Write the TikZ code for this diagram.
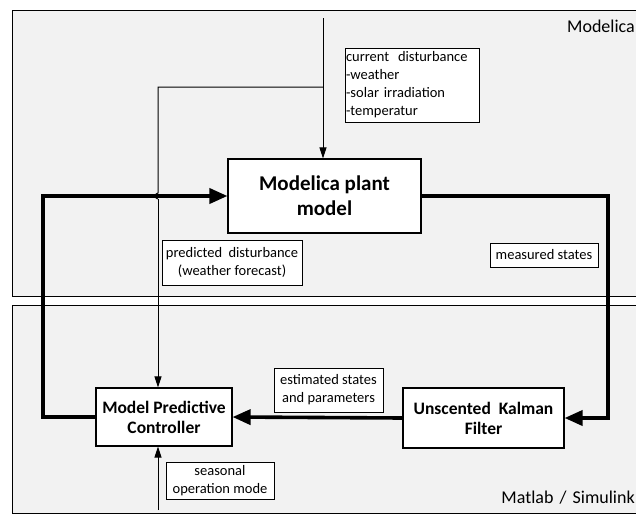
\documentclass[tikz,border=0pt]{standalone}
\usepackage{fontspec}
\setmainfont{Carlito}
\usetikzlibrary{arrows.meta}
\definecolor{panel}{HTML}{F2F2F2}
\tikzset{
  blk/.style={draw=black, line width=1.1pt, fill=white, align=center, font=\fontsize{17.5}{20}\selectfont\bfseries, inner sep=0pt},
  lbl/.style={draw=black, line width=0.8pt, fill=white, align=center, font=\fontsize{14.5}{18}\selectfont, inner sep=0pt},
  thin/.style={line width=1pt, -{Triangle[length=11pt,width=7pt]}},
  thk/.style={line width=3.6pt, -{Triangle[length=18pt,width=15pt]}},
  pan/.style={draw=black, line width=1pt, fill=panel},
  side/.style={font=\fontsize{18}{20}\selectfont, inner sep=0pt}
}
\begin{document}
\begin{tikzpicture}[x=1pt,y=-1pt]
\useasboundingbox (0,0) rectangle (636,514);
\clip (0,0) rectangle (636,514);
\fill[white] (0,0) rectangle (636,514);
\draw[pan] (12,10) rectangle (645,296);
\draw[pan] (12,305) rectangle (645,513);
\node[side, anchor=east] (modlbl) at (635,26) {Modelica};
\node[side, anchor=east] (matlbl) at (635,498) {Matlab\hspace{2pt} /\hspace{2pt} Simulink};

\node[blk, minimum width=193pt, minimum height=74pt, font=\fontsize{21}{25}\selectfont\bfseries] (plant) at (324.5,196) {Modelica plant\\model};
\node[blk, minimum width=136pt, minimum height=58pt] (mpc) at (164,417) {Model Predictive\\Controller};
\node[blk, minimum width=161pt, minimum height=60pt] (ukf) at (483.5,418) {Unscented\ \ Kalman\\Filter};

\node[lbl, minimum width=134pt, minimum height=74pt, align=left, text width=132pt] (cur) at (412,85) {current\hspace{4pt} disturbance\\-weather\\-solar irradiation\\-temperatur};
\node[lbl, minimum width=140pt, minimum height=45pt] (pred) at (232,262.5) {predicted\hspace{3pt} disturbance\\(weather forecast)};
\node[lbl, minimum width=108pt, minimum height=24pt] (meas) at (544,255) {measured states};
\node[lbl, minimum width=109pt, minimum height=44pt] (est) at (328.5,390) {estimated states\\and parameters};
\node[lbl, minimum width=108pt, minimum height=37pt] (seas) at (220,480.5) {seasonal\\operation mode};

\coordinate (top) at (323,18);
\coordinate (br) at (323,87);
\coordinate (brl) at (158,87);
\coordinate (ja) at (158,193);
\coordinate (jb) at (158,199);
\coordinate (lx) at (43,300);
\coordinate (rx) at (608,300);
\coordinate (sb) at (158,510);

\draw[thin] (top) -- (top |- plant.north);
\draw[line width=1pt] (br) -- (brl) -- (ja) .. controls (154,194) and (154,198) .. (jb);
\draw[thin] (jb) -- (jb |- mpc.north);
\draw[thin] (sb) -- (sb |- mpc.south);

\draw[thk] (mpc.west) -| (lx) |- (plant.west);
\draw[thk] (plant.east) -| (rx) |- (ukf.east);
\draw[thk] (ukf.west) -- (mpc.east);
\end{tikzpicture}
\end{document}
